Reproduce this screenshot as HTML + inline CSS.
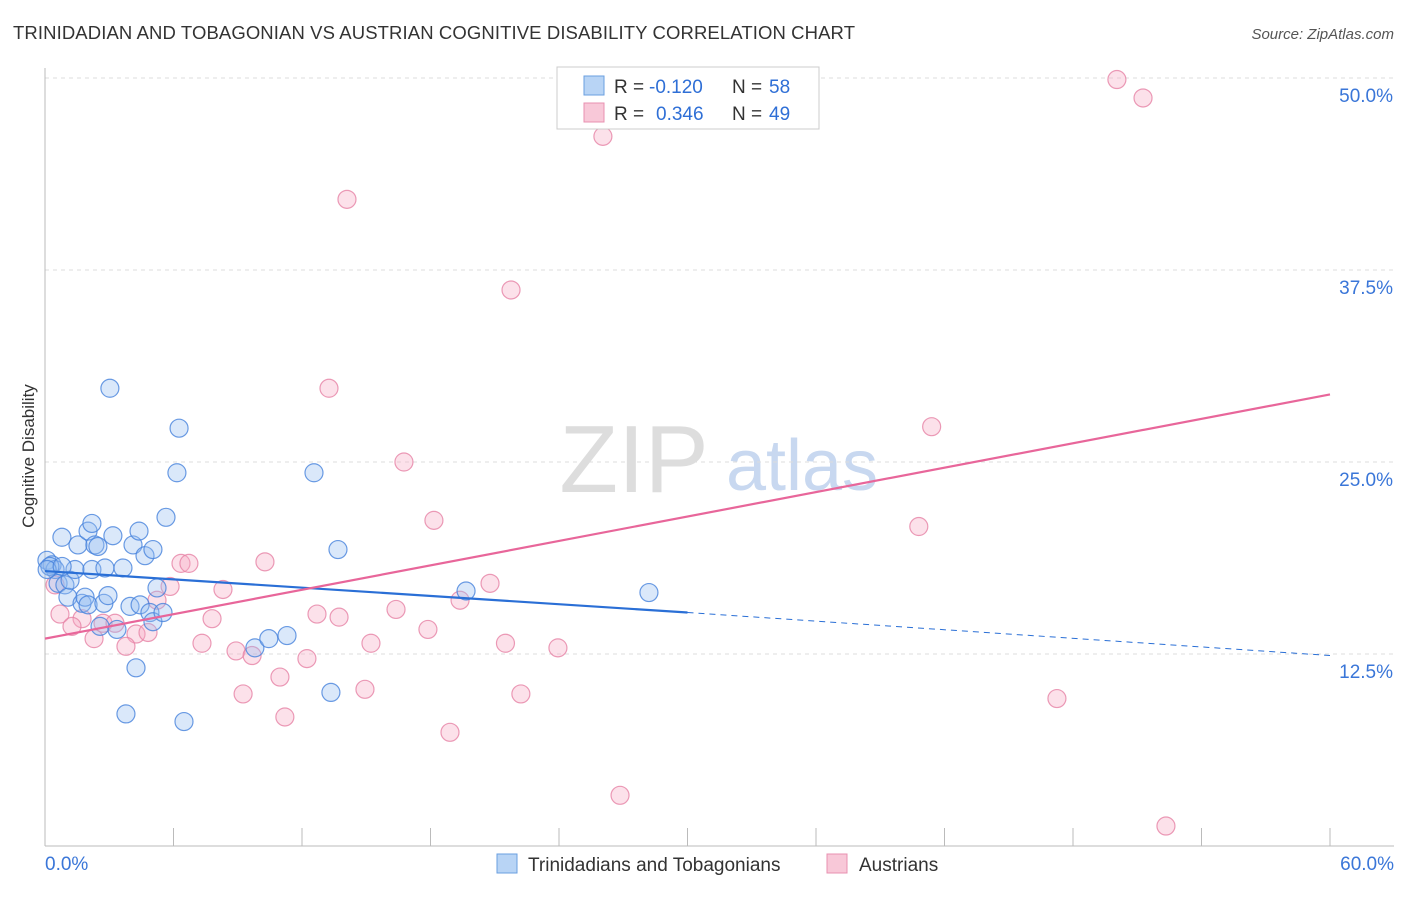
<!DOCTYPE html>
<html><head><meta charset="utf-8"><style>
body{margin:0;background:#fff;font-family:"Liberation Sans",sans-serif}
svg text{font-family:"Liberation Sans",sans-serif}
</style></head><body>
<svg id="c" width="1406" height="892">
<text x="13" y="39" font-size="18.5" fill="#333" textLength="842">TRINIDADIAN AND TOBAGONIAN VS AUSTRIAN COGNITIVE DISABILITY CORRELATION CHART</text>
<text x="1394" y="39" font-size="15" fill="#555" text-anchor="end" font-style="italic">Source: ZipAtlas.com</text>
<text x="634" y="492" font-size="96" fill="#ddd" font-family="Liberation Serif" text-anchor="middle">ZIP</text>
<text x="802" y="490" font-size="72" fill="#c8d8f0" text-anchor="middle">atlas</text>
<text x="34" y="456" font-size="17" fill="#333" text-anchor="middle" transform="rotate(-90 34 456)">Cognitive Disability</text>
<g id="grid"></g><g id="marks"></g>
<g>
<rect x="557" y="67" width="262" height="62" fill="#fff" stroke="#ccc"/>
<rect x="584" y="76" width="20" height="19" fill="#b8d4f5" stroke="#6a9fe0"/>
<rect x="584" y="103" width="20" height="19" fill="#f8c8d8" stroke="#e890b0"/>
<text x="614" y="93" font-size="19" fill="#333">R =</text>
<text x="649" y="93" font-size="19" fill="#2f6fd6">-0.120</text>
<text x="732" y="93" font-size="19" fill="#333">N =</text>
<text x="769" y="93" font-size="19" fill="#2f6fd6">58</text>
<text x="614" y="120" font-size="19" fill="#333">R =</text>
<text x="656" y="120" font-size="19" fill="#2f6fd6">0.346</text>
<text x="732" y="120" font-size="19" fill="#333">N =</text>
<text x="769" y="120" font-size="19" fill="#2f6fd6">49</text>
</g>
<g>
<rect x="497" y="854" width="20" height="19" fill="#b8d4f5" stroke="#6a9fe0"/>
<text x="528" y="871" font-size="19" fill="#333">Trinidadians and Tobagonians</text>
<rect x="827" y="854" width="20" height="19" fill="#f8c8d8" stroke="#e890b0"/>
<text x="859" y="871" font-size="19" fill="#333">Austrians</text>
</g>
</svg>
<script>
const yTicks=[12.5,25,37.5,50];
const yTickLabels=["12.5%","25.0%","37.5%","50.0%"];
const blueX=[0.09,0.33,0.47,0.23,0.79,0.61,0.93,1.07,1.17,1.40,1.54,1.73,1.87,2.01,2.01,2.19,2.19,2.33,2.47,2.57,2.75,2.80,2.94,3.03,3.17,3.36,3.64,3.78,3.97,4.11,4.25,4.39,4.44,4.67,4.90,5.04,5.04,5.23,5.51,5.65,6.26,6.16,6.49,9.8,10.45,11.3,12.56,13.35,13.68,19.66,28.2,0.1,0.8];
const blueY=[18.6,18.3,18.0,18.2,20.1,17.1,17.0,16.2,17.3,18.0,19.6,15.8,16.2,15.7,20.5,21.0,18.0,19.6,19.5,14.3,15.8,18.1,16.3,29.8,20.2,14.1,18.1,8.6,15.6,19.6,11.6,20.5,15.7,18.9,15.2,19.3,14.6,16.8,15.2,21.4,27.2,24.3,8.1,12.9,13.5,13.7,24.3,10.0,19.3,16.6,16.5,18.0,18.2];
const pinkX=[50.05,51.27,26.05,14.1,21.76,13.26,41.4,16.76,18.16,40.8,10.27,6.35,6.72,20.78,5.84,8.31,0.47,0.7,19.38,16.39,12.7,13.73,1.73,1.26,7.8,2.71,3.27,5.23,4.25,4.81,2.29,3.78,7.33,17.88,15.22,21.5,23.95,8.92,9.67,12.23,10.97,9.25,14.94,22.22,11.2,18.91,47.25,26.85,52.34];
const pinkY=[49.9,48.7,46.2,42.1,36.2,29.8,27.3,25.0,21.2,20.8,18.5,18.4,18.4,17.1,16.9,16.7,17.0,15.1,16.0,15.4,15.1,14.9,14.8,14.3,14.8,14.5,14.5,16.0,13.8,13.9,13.5,13.0,13.2,14.1,13.2,13.2,12.9,12.7,12.4,12.2,11.0,9.9,10.2,9.9,8.4,7.4,9.6,3.3,1.3];
const blueTrend=[17.9,15.2,12.4];
const pinkTrend=[13.5,29.4];
const NS="http://www.w3.org/2000/svg";
const X=v=>45+v/60*1285, Y=v=>846-v/12.5*192;
function mk(p,t,a){const e=document.createElementNS(NS,t);for(const k in a)e.setAttribute(k,a[k]);p.appendChild(e);return e;}
const g=document.getElementById('grid'),m=document.getElementById('marks');
yTicks.forEach((t,i)=>{
 const l=mk(g,'line',{x1:45,x2:1394,y1:Y(t),y2:Y(t),stroke:'#ddd','stroke-dasharray':'4,4'});
 
 
 const tx=mk(g,'text',{x:1393,y:Y(t)+24,'font-size':19,fill:'#3a76d8','text-anchor':'end'});tx.textContent=yTickLabels[i];
 
 
});
mk(g,'line',{x1:45,x2:45,y1:68,y2:846,stroke:'#bbb'});
mk(g,'line',{x1:45,x2:1394,y1:846,y2:846,stroke:'#bbb'});
for(let i=0;i<=10;i++){mk(g,'line',{x1:X(i*6),x2:X(i*6),y1:828,y2:846,stroke:'#bbb'});}
let t0=mk(g,'text',{x:45,y:870,'font-size':19,fill:'#3a76d8'});t0.textContent='0.0%';


let t1=mk(g,'text',{x:1394,y:870,'font-size':19,fill:'#3a76d8','text-anchor':'end'});t1.textContent='60.0%';


pinkX.forEach((x,i)=>{const c=mk(m,'circle',{cx:X(x),cy:Y(pinkY[i]),r:9,fill:'rgba(245,170,195,0.35)',stroke:'rgba(230,130,165,0.8)','stroke-width':1.2});
 
 });
blueX.forEach((x,i)=>{const c=mk(m,'circle',{cx:X(x),cy:Y(blueY[i]),r:9,fill:'rgba(150,190,240,0.35)',stroke:'rgba(70,130,220,0.8)','stroke-width':1.2});
 
 });
let b1=mk(m,'line',{x1:X(0),y1:Y(blueTrend[0]),x2:X(30),y2:Y(blueTrend[1]),stroke:'#2a6fd6','stroke-width':2.2});


let b2=mk(m,'line',{x1:X(30),y1:Y(blueTrend[1]),x2:X(60),y2:Y(blueTrend[2]),stroke:'#2a6fd6','stroke-width':1,'stroke-dasharray':'6,5'});


let p1=mk(m,'line',{x1:X(0),y1:Y(pinkTrend[0]),x2:X(60),y2:Y(pinkTrend[1]),stroke:'#e8669a','stroke-width':2.2});


</script>
</body></html>
